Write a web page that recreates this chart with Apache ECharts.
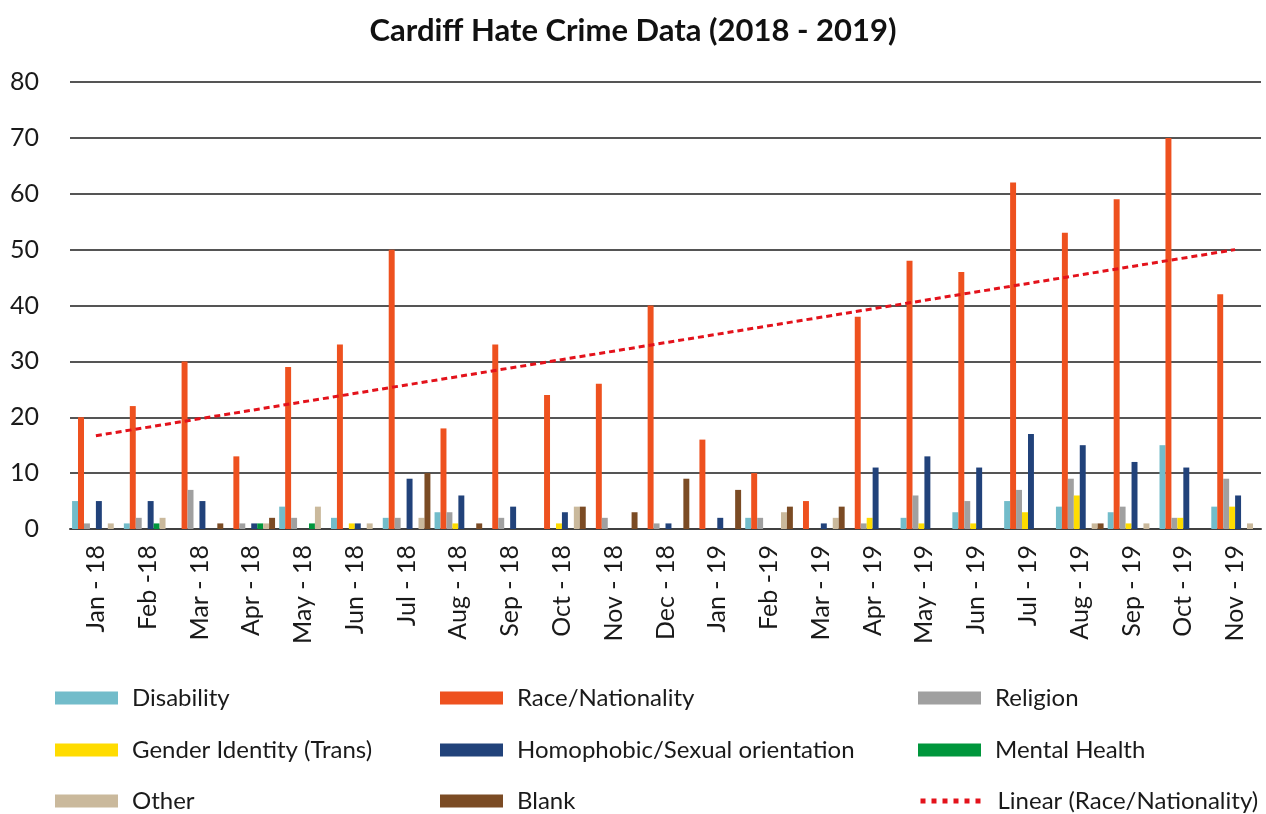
<!DOCTYPE html>
<html>
<head>
  <meta charset="UTF-8" />
  <title>Cardiff Hate Crime Data</title>
  <script src="https://cdn.jsdelivr.net/npm/echarts@6/dist/echarts.min.js"></script>
  <style>
    html, body { margin: 0; height: 100%; background: #fff; }
    #chart { width: 1266px; height: 814px; }
  </style>
</head>
<body>
  <div id="chart"></div>
  <script>
    const months = ['Jan - 18', 'Feb -18', 'Mar - 18', 'Apr - 18', 'May - 18', 'Jun - 18', 'Jul - 18', 'Aug - 18',
      'Sep - 18', 'Oct - 18', 'Nov - 18', 'Dec - 18', 'Jan - 19', 'Feb -19', 'Mar - 19', 'Apr - 19', 'May - 19',
      'Jun - 19', 'Jul - 19', 'Aug - 19', 'Sep - 19', 'Oct - 19', 'Nov - 19'];

    const disability = [5, 1, 0, 0, 4, 2, 2, 3, 0, 0, 0, 0, 0, 2, 0, 0, 2, 3, 5, 4, 3, 15, 4];
    const race       = [20, 22, 30, 13, 29, 33, 50, 18, 33, 24, 26, 40, 16, 10, 5, 38, 48, 46, 62, 53, 59, 70, 42];
    const religion   = [1, 2, 7, 1, 2, 0, 2, 3, 2, 0, 2, 1, 0, 2, 0, 1, 6, 5, 7, 9, 4, 2, 9];
    const gender     = [0, 0, 0, 0, 0, 1, 0, 1, 0, 1, 0, 0, 0, 0, 0, 2, 1, 1, 3, 6, 1, 2, 4];
    const homophobic = [5, 5, 5, 1, 0, 1, 9, 6, 4, 3, 0, 1, 2, 0, 1, 11, 13, 11, 17, 15, 12, 11, 6];
    const mental     = [0, 1, 0, 1, 1, 0, 0, 0, 0, 0, 0, 0, 0, 0, 0, 0, 0, 0, 0, 0, 0, 0, 0];
    const other      = [1, 2, 0, 1, 4, 1, 2, 0, 0, 4, 0, 0, 0, 3, 2, 0, 0, 0, 0, 1, 1, 0, 1];
    const blank      = [0, 0, 1, 2, 0, 0, 10, 1, 0, 4, 3, 9, 7, 4, 4, 0, 0, 0, 0, 1, 0, 0, 0];

    // trend line ends (first and last month)
    const trendStart = 16.7;
    const trendEnd = 50;

    const yTicks = { min: 0, max: 80, interval: 10 };

    const chart = echarts.init(document.getElementById('chart'));
    const font = 'Lato, "Open Sans", sans-serif';
    const trendName = 'Linear (Race/Nationality)';

    const barDefs = [
      ['Disability', disability, '#72bcca'],
      ['Race/Nationality', race, '#ee511f'],
      ['Religion', religion, '#a0a0a0'],
      ['Gender Identity (Trans)', gender, '#ffdc00'],
      ['Homophobic/Sexual orientation', homophobic, '#21427a'],
      ['Mental Health', mental, '#00963c'],
      ['Other', other, '#cab99c'],
      ['Blank', blank, '#7b4b24']
    ];
    const barSeries = barDefs.map(([name, data, color]) => ({
      name: name,
      type: 'bar',
      data: data,
      barGap: 0,
      barCategoryGap: '8%',
      itemStyle: { color: color }
    }));

    // legend: 3 columns x 3 rows, one legend per entry so each sits exactly
    const legendOrder = [
      ['Disability', 'Race/Nationality', 'Religion'],
      ['Gender Identity (Trans)', 'Homophobic/Sexual orientation', 'Mental Health'],
      ['Other', 'Blank', trendName]
    ];
    const colX = [55, 440, 918];
    const rowY = [685, 737, 788];
    const legends = [];
    legendOrder.forEach((row, r) => row.forEach((name, c) => {
      const item = name === trendName
        ? { name: name, itemStyle: { color: 'rgba(0,0,0,0)', borderWidth: 0 },
            lineStyle: { color: '#e3121b', width: 5, type: [5, 6] } }
        : { name: name, icon: 'rect' };
      legends.push({
        left: colX[c], top: rowY[r], padding: 0,
        itemWidth: 63, itemHeight: 13, selectedMode: false,
        textStyle: { color: '#1a1a1a', fontSize: 24, fontFamily: font, lineHeight: 26, padding: [0, 0, 0, 9] },
        data: [item]
      });
    }));

    chart.setOption({
      animation: false,
      backgroundColor: '#fff',
      title: {
        text: 'Cardiff Hate Crime Data (2018 - 2019)',
        left: 'center',
        top: 10,
        textStyle: { color: '#111', fontSize: 31, fontWeight: 'bold', fontFamily: font }
      },
      legend: legends,
      grid: { left: 70, right: 5, top: 82, bottom: 285 },
      xAxis: {
        type: 'category',
        data: months,
        axisLine: { lineStyle: { color: '#404040', width: 2 } },
        axisTick: { show: false },
        axisLabel: { rotate: 90, color: '#1a1a1a', fontSize: 25, fontFamily: font, margin: 16, interval: 0 }
      },
      yAxis: {
        type: 'value',
        min: yTicks.min,
        max: yTicks.max,
        interval: yTicks.interval,
        axisLine: { show: false },
        axisTick: { show: false },
        axisLabel: { color: '#1a1a1a', fontSize: 25, fontFamily: font, margin: 31 },
        splitLine: { lineStyle: { color: '#555', width: 2 } }
      },
      series: barSeries.concat([{
        name: trendName,
        type: 'line',
        symbol: 'none',
        data: [[0, trendStart], [months.length - 1, trendEnd]],
        lineStyle: { color: '#e3121b', width: 3, type: [6, 4] },
        itemStyle: { color: '#e3121b' },
        z: 5
      }])
    });
  </script>
</body>
</html>
